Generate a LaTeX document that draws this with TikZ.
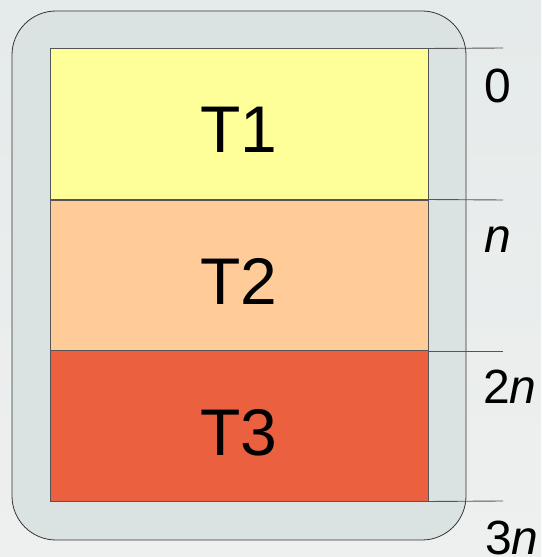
\documentclass[tikz,border=0pt]{standalone}
\usepackage{fontspec}
\setmainfont{Liberation Sans}
\definecolor{bgtop}{HTML}{E5EAEA}
\definecolor{bgbot}{HTML}{EEF0EF}
\definecolor{frame}{HTML}{DAE2E2}
\definecolor{tone}{HTML}{FFFF99}
\definecolor{ttwo}{HTML}{FFCC99}
\definecolor{tthree}{HTML}{EB603F}
\definecolor{edge}{HTML}{555555}
\tikzset{
  box/.style={draw=edge, line width=0.9pt, minimum width=378pt, minimum height=151pt, inner sep=0pt, outer sep=0pt},
  blabel/.style={font=\fontsize{66}{70}\selectfont, anchor=base, inner sep=0pt},
  tick/.style={draw=edge, line width=0.9pt},
  tlabel/.style={font=\fontsize{48}{52}\selectfont, anchor=base west, inner sep=0pt}
}
\begin{document}
\begin{tikzpicture}[x=1pt,y=1pt]
\useasboundingbox (0,0) rectangle (541,557);
\shade[top color=bgtop, bottom color=bgbot] (0,0) rectangle (541,557);
\node[draw=black!80, fill=frame, rounded corners=44pt, line width=0.8pt, minimum width=454pt, minimum height=529pt, inner sep=0pt] (frm) at (239,281.5) {};
\node[box, fill=tone] (t1) at (239,433) {};
\node[box, fill=ttwo] (t2) at (239,281.5) {};
\node[box, fill=tthree] (t3) at (239,131) {};
\node[blabel] (l1) at (239,404) {T1};
\node[blabel] (l2) at (239,252) {T2};
\node[blabel] (l3) at (239,101) {T3};
\coordinate (e0) at (503,509);
\coordinate (e1) at (503,357);
\coordinate (e2) at (503,206);
\coordinate (e3) at (503,56);
\draw[tick] (t1.north east) -- (e0);
\draw[tick] (t1.south east) -- (e1);
\draw[tick] (t2.south east) -- (e2);
\draw[tick] (t3.south east) -- (e3);
\node[tlabel] (n0) at (484,454) {0};
\node[tlabel] (n1) at (484,304) {\itshape n};
\node[tlabel] (n2) at (483,153) {2\itshape n};
\node[tlabel] (n3) at (485,2) {3\itshape n};
\end{tikzpicture}
\end{document}
